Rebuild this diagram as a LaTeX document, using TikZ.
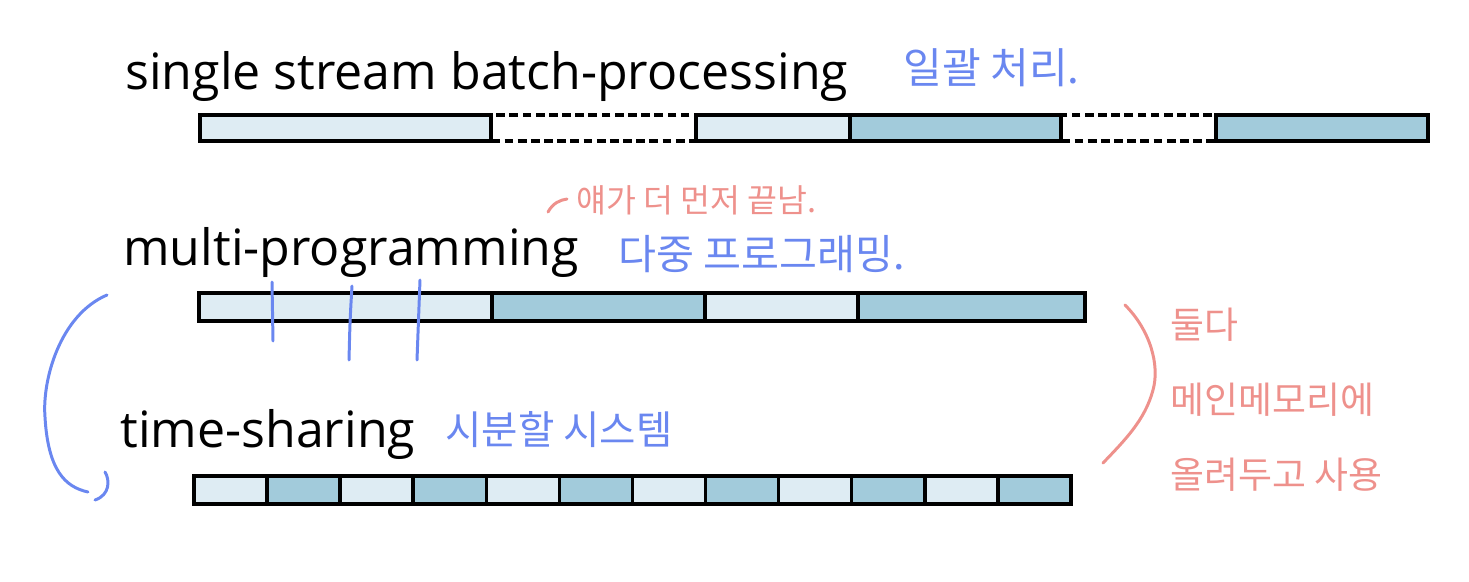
\documentclass[tikz,border=0pt]{standalone}
\usepackage{fontspec}
\setmainfont{Open Sans}
\newfontfamily\kr{Noto Sans CJK KR}
\definecolor{seglightc}{RGB}{222,236,243}
\definecolor{segdarkc}{RGB}{162,203,219}
\definecolor{penblue}{RGB}{106,135,240}
\definecolor{penred}{RGB}{238,145,140}
\begin{document}
\begin{tikzpicture}[x=0.02cm,y=-0.02cm,
  seglight/.style={draw=black,line width=2pt,fill=seglightc},
  segdark/.style={draw=black,line width=2pt,fill=segdarkc},
  segempty/.style={draw=black,line width=2pt,dash pattern=on 5pt off 2.5pt},
  lab/.style={font=\fontsize{28.5}{32}\selectfont,anchor=base west,inner sep=0pt},
  bluepen/.style={draw=penblue,line width=1.7pt,line cap=round,line join=round},
  redpen/.style={draw=penred,line width=1.7pt,line cap=round,line join=round},
  krblue/.style={text=penblue,inner sep=0pt},
  krred/.style={text=penred,inner sep=0pt}]
\useasboundingbox (0,0) rectangle (1469,581);
% row 1
\draw[segempty] (491,115) rectangle (696,141);
\draw[segempty] (1061,115) rectangle (1216,141);
\draw[seglight] (200,115) rectangle (491,141);
\draw[seglight] (696,115) rectangle (850,141);
\draw[segdark] (850,115) rectangle (1061,141);
\draw[segdark] (1216,115) rectangle (1428,141);
% row 2
\draw[seglight] (199,293) rectangle (492,321);
\draw[segdark] (492,293) rectangle (705,321);
\draw[seglight] (705,293) rectangle (858,321);
\draw[segdark] (858,293) rectangle (1085,321);
% row 3
\foreach \i in {0,...,11}{
  \pgfmathsetmacro\xa{194+\i*73.08}
  \pgfmathsetmacro\xb{194+(\i+1)*73.08}
  \ifodd\i
    \draw[segdark] (\xa,476) rectangle (\xb,504);
  \else
    \draw[seglight] (\xa,476) rectangle (\xb,504);
  \fi
}
% labels
\node[lab] (l1) at (125,90) {single stream batch-processing};
\node[lab] (l2) at (123,265) {multi-programming};
\node[lab] (l3) at (120,447) {time-sharing};
% handwritten notes
\node[krblue,anchor=west,font=\kr\fontsize{24}{28}\selectfont] (n1) at (903,68) {일괄 처리.};
\node[krred,anchor=west,font=\kr\fontsize{18.5}{22}\selectfont] (n2) at (576,200) {얘가 더 먼저 끝남.};
\node[krblue,anchor=west,font=\kr\fontsize{23.5}{28}\selectfont] (n3) at (618,254) {다중 프로그래밍.};
\node[krblue,anchor=west,font=\kr\fontsize{22.5}{26}\selectfont] (n4) at (445,430) {시분할 시스템};
\node[krred,anchor=north west,align=left,font=\kr\fontsize{21}{42.5}\selectfont] (n5) at (1170,308) {둘다\\메인메모리에\\올려두고 사용};
% pen strokes
\draw[redpen] (548,212) .. controls (553,203) and (560,200) .. (567,199);
\draw[bluepen] (272,282) -- (273,341);
\draw[bluepen] (352,286) .. controls (350,320) .. (349,360);
\draw[bluepen] (420,280) .. controls (418,320) .. (417,360);
\draw[bluepen] (107,295) .. controls (60,315) and (42,380) .. (45,417) .. controls (48,470) and (65,487) .. (88,492);
\draw[bluepen] (105,472) .. controls (110,480) and (110,495) .. (95,500);
\draw[redpen] (1125,305) .. controls (1150,330) and (1160,365) .. (1153,390) .. controls (1145,420) and (1125,440) .. (1103,463);
\end{tikzpicture}
\end{document}
